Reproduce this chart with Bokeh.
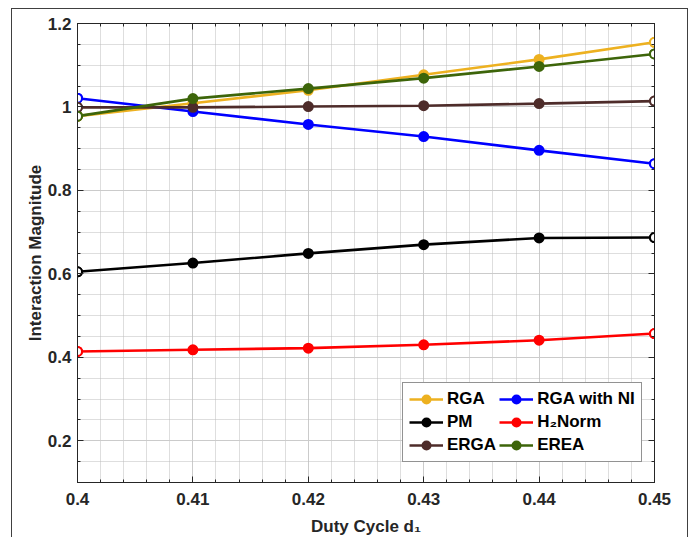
import numpy as np
from bokeh.plotting import figure
from bokeh.models import (FixedTicker, LinearAxis, Legend, LegendItem, Range1d)
from bokeh.embed import file_html
from bokeh.resources import INLINE

# ---- data ----
duty_cycle = [0.40, 0.41, 0.42, 0.43, 0.44, 0.45]
rga = [0.978, 1.009, 1.040, 1.077, 1.114, 1.155]
rga_ni = [1.021, 0.989, 0.958, 0.929, 0.896, 0.864]
pm = [0.605, 0.626, 0.649, 0.670, 0.686, 0.687]
h2norm = [0.414, 0.418, 0.422, 0.430, 0.441, 0.457]
erga = [0.999, 0.999, 1.001, 1.003, 1.008, 1.014]
erea = [0.978, 1.020, 1.044, 1.069, 1.097, 1.127]

series_names = ["RGA", "RGA with NI", "PM", "H\u2082Norm", "ERGA", "EREA"]
series_values = [rga, rga_ni, pm, h2norm, erga, erea]
series_colors = ["#EDB120", "#0000FF", "#000000", "#FF0000", "#4E2C2A", "#3D650A"]

x_ticks = [0.40, 0.41, 0.42, 0.43, 0.44, 0.45]
x_tick_labels = ["0.4", "0.41", "0.42", "0.43", "0.44", "0.45"]
y_ticks = [0.2, 0.4, 0.6, 0.8, 1.0, 1.2]
y_tick_labels = ["0.2", "0.4", "0.6", "0.8", "1", "1.2"]

FONT = "Liberation Sans"
FS = "17px"
AXC = "#262626"

p = figure(width=677, height=529, output_backend="svg", toolbar_location=None,
           x_range=Range1d(0.40, 0.45), y_range=Range1d(0.1, 1.2),
           min_border_left=65, min_border_right=35, min_border_top=14,
           min_border_bottom=51)
p.styles = {"margin-left": "11px", "margin-top": "8px",
            "border-left": "1px solid #404040",
            "border-top": "1px solid #404040", "border-right": "1px solid #404040"}
p.outline_line_color = AXC
p.outline_line_width = 1

bottom = p.below[0]
left = p.left[0]

x_minor = [round(v, 4) for v in np.arange(0.40, 0.4501, 0.002)]
y_minor = [round(v, 4) for v in np.arange(0.10, 1.2001, 0.05)]
xt = FixedTicker(ticks=x_ticks, minor_ticks=x_minor)
yt = FixedTicker(ticks=y_ticks, minor_ticks=y_minor)

bottom.ticker = xt
bottom.major_label_overrides = {t: l for t, l in zip(x_ticks, x_tick_labels)}
left.ticker = yt
left.major_label_overrides = {t: l for t, l in zip(y_ticks, y_tick_labels)}

top = LinearAxis(ticker=xt, major_label_standoff=0,
                 major_label_overrides={t: "" for t in x_ticks})
right = LinearAxis(ticker=yt, major_label_standoff=0,
                   major_label_overrides={t: "" for t in y_ticks})
p.add_layout(top, "above")
p.add_layout(right, "right")

for ax in [bottom, left, top, right]:
    ax.major_tick_in = 6
    ax.major_tick_out = 0
    ax.minor_tick_in = 3
    ax.minor_tick_out = 0
    ax.axis_line_color = AXC
    ax.major_tick_line_color = AXC
    ax.minor_tick_line_color = AXC
    ax.major_label_text_font = FONT
    ax.major_label_text_font_style = "bold"
    ax.major_label_text_color = "#262626"
    ax.axis_label_text_font = FONT
    ax.axis_label_text_font_style = "bold"
    ax.axis_label_text_color = "#262626"
    ax.axis_label_text_font_size = FS

top.major_label_text_font_size = "8px"
right.major_label_text_font_size = "8px"
bottom.major_label_text_font_size = FS
left.major_label_text_font_size = FS
bottom.major_label_standoff = 10
left.major_label_standoff = 6
bottom.axis_label = "Duty Cycle d\u2081"
left.axis_label = "Interaction Magnitude"
bottom.axis_label_standoff = 9
left.axis_label_standoff = 0

p.xgrid.ticker = xt
p.ygrid.ticker = yt
for g in [p.xgrid[0], p.ygrid[0]]:
    g.grid_line_color = "#cbcbcb"
    g.grid_line_width = 1
    g.minor_grid_line_color = "#bdbdbd"
    g.minor_grid_line_dash = "1 1"
    g.minor_grid_line_width = 1

items = []
n = len(duty_cycle)
ends = [0, n - 1]
for name, vals, col in zip(series_names, series_values, series_colors):
    ln = p.line(duty_cycle, vals, line_color=col, line_width=2.6)
    sc = p.scatter(duty_cycle, vals, marker="circle", size=9, line_color=col,
                   line_width=2, fill_color=col)
    p.scatter([duty_cycle[i] for i in ends], [vals[i] for i in ends],
              marker="circle", size=9, line_color=col, line_width=2,
              fill_color="white")
    items.append(LegendItem(label=name, renderers=[ln, sc]))

legend = Legend(items=items, location=(325, 20), orientation="horizontal", nrows=3)
legend.label_text_font = FONT
legend.label_text_font_style = "bold"
legend.label_text_font_size = FS
legend.label_text_color = "#000000"
legend.label_height = 20
legend.glyph_height = 20
legend.glyph_width = 34
legend.label_standoff = 4
legend.spacing = 3
legend.padding = 6
legend.margin = 0
legend.border_line_color = AXC
legend.border_line_width = 1
legend.background_fill_color = "white"
legend.background_fill_alpha = 1
p.add_layout(legend, "center")

open("out.html", "w").write(file_html(p, INLINE))
